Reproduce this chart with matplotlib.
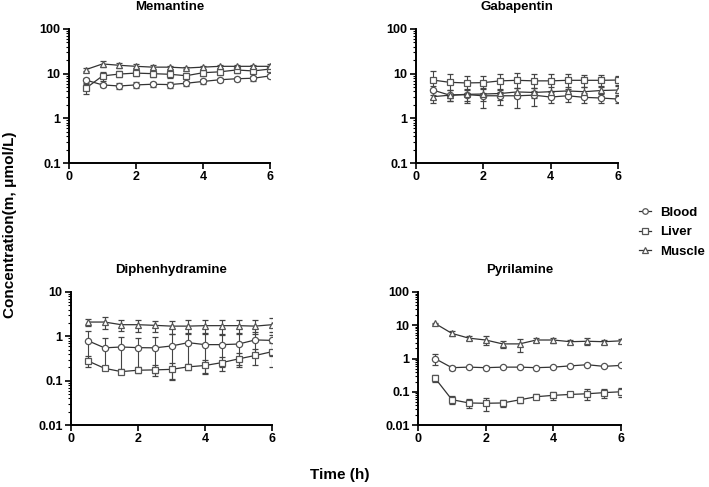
import numpy as np
import matplotlib
matplotlib.use("Agg")
import matplotlib.pyplot as plt
from matplotlib.lines import Line2D
from matplotlib.ticker import LogLocator, FixedLocator, FuncFormatter

plt.rcParams["font.family"] = ["Liberation Sans", "DejaVu Sans"]
plt.rcParams["font.weight"] = "bold"

time_h = [0.5, 1, 1.5, 2, 2.5, 3, 3.5, 4, 4.5, 5, 5.5, 6]
tissues = ["Blood", "Liver", "Muscle"]

memantine_blood = [7.2, 5.6, 5.3, 5.6, 5.8, 5.7, 6.1, 6.7, 7.3, 7.7, 7.9, 8.9]
memantine_blood_sd = [1.0, 0.6, 0.8, 0.8, 0.8, 0.8, 0.8, 0.9, 0.8, 0.8, 0.9, 0.8]
memantine_liver = [4.7, 8.9, 9.8, 10.3, 10.0, 9.7, 9.0, 10.5, 11.0, 12.1, 11.5, 12.7]
memantine_liver_sd = [1.2, 2.0, 1.5, 1.5, 1.5, 1.5, 1.5, 1.5, 1.5, 1.5, 1.5, 1.5]
memantine_muscle = [12.3, 16.5, 15.4, 14.6, 14.0, 14.0, 13.4, 14.0, 14.6, 14.6, 14.6, 14.6]
memantine_muscle_sd = [1.0, 2.5, 2.0, 1.5, 1.5, 1.2, 1.0, 1.2, 1.0, 1.0, 1.0, 1.5]

gabapentin_blood = [4.3, 3.3, 3.4, 3.2, 3.2, 3.2, 3.3, 3.0, 3.2, 2.95, 2.85, 2.7]
gabapentin_blood_sd = [1.0, 0.9, 1.0, 1.5, 1.2, 1.5, 1.4, 0.8, 0.9, 0.8, 0.6, 0.5]
gabapentin_liver = [7.2, 6.4, 6.2, 6.3, 6.9, 7.1, 6.9, 6.9, 7.1, 7.1, 7.1, 7.2]
gabapentin_liver_sd = [4.5, 3.5, 2.5, 2.7, 3.0, 3.5, 2.8, 2.8, 2.5, 2.0, 2.0, 1.5]
gabapentin_muscle = [3.05, 3.3, 3.45, 3.5, 3.6, 3.9, 3.8, 3.95, 4.1, 3.95, 4.2, 4.3]
gabapentin_muscle_sd = [0.8, 0.9, 1.2, 1.0, 1.0, 1.0, 1.0, 1.0, 1.0, 1.0, 1.0, 1.0]

diphen_blood = [0.8, 0.55, 0.575, 0.556, 0.55, 0.606, 0.72, 0.65, 0.65, 0.67, 0.83, 0.81]
diphen_blood_sd = [0.5, 0.37, 0.4, 0.35, 0.4, 0.5, 0.5, 0.5, 0.45, 0.45, 0.45, 0.45]
diphen_liver = [0.28, 0.19, 0.16, 0.172, 0.175, 0.18, 0.205, 0.22, 0.255, 0.31, 0.37, 0.45]
diphen_liver_sd = [0.08, 0.02, 0.02, 0.02, 0.05, 0.07, 0.03, 0.08, 0.09, 0.11, 0.14, 0.25]
diphen_muscle = [2.1, 2.1, 1.83, 1.83, 1.77, 1.7, 1.7, 1.74, 1.74, 1.74, 1.7, 1.83]
diphen_muscle_sd = [0.4, 0.6, 0.5, 0.55, 0.5, 0.55, 0.6, 0.55, 0.65, 0.55, 0.6, 0.75]

pyril_blood = [1.0, 0.53, 0.55, 0.53, 0.55, 0.55, 0.53, 0.55, 0.6, 0.65, 0.58, 0.62]
pyril_blood_sd = [0.35, 0.07, 0.04, 0.06, 0.04, 0.04, 0.03, 0.04, 0.04, 0.04, 0.03, 0.03]
pyril_liver = [0.26, 0.058, 0.046, 0.045, 0.046, 0.057, 0.071, 0.078, 0.083, 0.087, 0.094, 0.1]
pyril_liver_sd = [0.07, 0.015, 0.013, 0.018, 0.01, 0.012, 0.012, 0.02, 0.008, 0.03, 0.03, 0.03]
pyril_muscle = [11.4, 5.7, 4.1, 3.6, 2.75, 2.75, 3.6, 3.6, 3.2, 3.3, 3.2, 3.4]
pyril_muscle_sd = [0.5, 0.8, 0.5, 1.0, 0.7, 1.2, 0.4, 0.6, 0.5, 0.7, 0.4, 0.4]

panels = [
    ("Memantine", [69, 29, 270, 163], (0.1, 100),
     [(memantine_blood, memantine_blood_sd), (memantine_liver, memantine_liver_sd), (memantine_muscle, memantine_muscle_sd)]),
    ("Gabapentin", [416, 29, 618, 163], (0.1, 100),
     [(gabapentin_blood, gabapentin_blood_sd), (gabapentin_liver, gabapentin_liver_sd), (gabapentin_muscle, gabapentin_muscle_sd)]),
    ("Diphenhydramine", [71, 292, 272, 425], (0.01, 10),
     [(diphen_blood, diphen_blood_sd), (diphen_liver, diphen_liver_sd), (diphen_muscle, diphen_muscle_sd)]),
    ("Pyrilamine", [418, 292, 621, 425], (0.01, 100),
     [(pyril_blood, pyril_blood_sd), (pyril_liver, pyril_liver_sd), (pyril_muscle, pyril_muscle_sd)]),
]

markers = {"Blood": "o", "Liver": "s", "Muscle": "^"}
W, H = 709, 487
fig = plt.figure(figsize=(W / 100, H / 100), dpi=100)


def fmt(v, pos):
    return ("%g" % v)


for title, (x0, y0, x1, y1), ylim, series in panels:
    ax = fig.add_axes([x0 / W, 1 - y1 / H, (x1 - x0) / W, (y1 - y0) / H])
    for name, (vals, sd) in zip(tissues, series):
        vals = np.array(vals)
        sd = np.array(sd)
        lower = np.minimum(sd, vals * 0.999)
        ax.errorbar(time_h, vals, yerr=[lower, sd], color="#333333", lw=0.9,
                    marker=markers[name], ms=4.5, mfc="white", mec="#555555", mew=0.9,
                    ecolor="#444444", elinewidth=0.8, capsize=2.2, capthick=0.8, label=name)
    ax.set_yscale("log")
    ax.set_ylim(*ylim)
    ax.set_xlim(0, 6)
    ax.xaxis.set_major_locator(FixedLocator([0, 2, 4, 6]))
    ax.yaxis.set_major_locator(LogLocator(base=10))
    ax.yaxis.set_minor_locator(LogLocator(base=10, subs=np.arange(2, 10)))
    ax.yaxis.set_major_formatter(FuncFormatter(fmt))
    ax.yaxis.set_minor_formatter(FuncFormatter(lambda v, p: ""))
    for s in ["top", "right"]:
        ax.spines[s].set_visible(False)
    for s in ["left", "bottom"]:
        ax.spines[s].set_linewidth(1.4)
    ax.tick_params(which="major", length=4, width=1.2, labelsize=9, pad=2)
    ax.tick_params(which="minor", length=2.5, width=0.8)
    for lab in ax.get_xticklabels() + ax.get_yticklabels():
        lab.set_fontweight("bold")
    ax.set_title(title, fontsize=9.5, fontweight="bold", pad=14)

fig.text(10 / W, 1 - 225 / H, "Concentration(m, μmol/L)", rotation=90, ha="center", va="center",
         fontsize=11, fontweight="bold")
fig.text(340 / W, 1 - 475 / H, "Time (h)", ha="center", va="center", fontsize=11, fontweight="bold")

handles = [Line2D([], [], color="#333333", lw=0.9, marker=markers[t], ms=4, mfc="white",
                  mec="#555555", mew=0.9) for t in tissues]
fig.legend(handles, tissues, loc="center left", bbox_to_anchor=(639 / W, 1 - 232 / H), frameon=False,
           prop={"size": 9.5, "weight": "bold"}, handlelength=0.9, handletextpad=0.7, labelspacing=0.55,
           borderaxespad=0, borderpad=0)

fig.savefig("out.png", dpi=100)
